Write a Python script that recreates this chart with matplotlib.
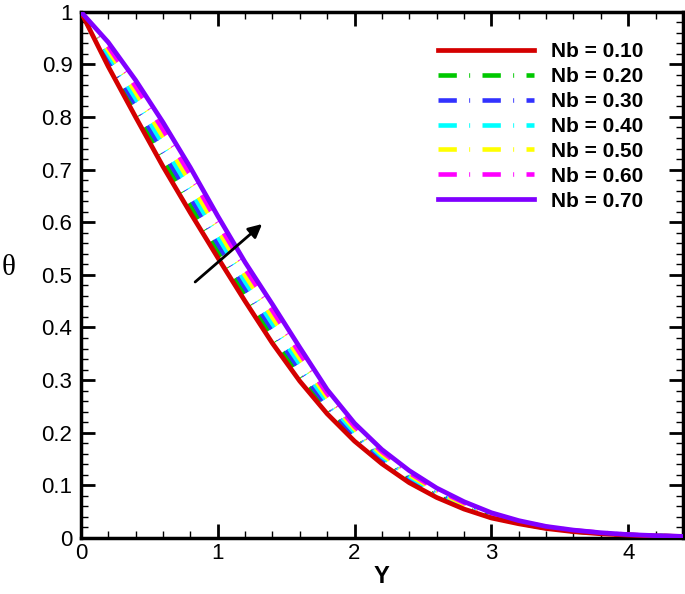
import numpy as np
import matplotlib
matplotlib.use('Agg')
import matplotlib.pyplot as plt
from matplotlib.ticker import MultipleLocator

plt.rcParams['font.family'] = ['Liberation Sans', 'DejaVu Sans']

Y = [0.0, 0.2, 0.4, 0.6, 0.8, 1.0, 1.2, 1.4, 1.6, 1.8, 2.0, 2.2,
     2.4, 2.6, 2.8, 3.0, 3.2, 3.4, 3.6, 3.8, 4.0, 4.2, 4.4]

theta_010 = [1.0, 0.896, 0.800, 0.706, 0.618, 0.533, 0.450, 0.370, 0.298, 0.236, 0.184, 0.141,
             0.105, 0.077, 0.055, 0.038, 0.027, 0.018, 0.012, 0.008, 0.0055, 0.0038, 0.0026]
theta_020 = [1.0, 0.904, 0.812, 0.720, 0.632, 0.546, 0.462, 0.382, 0.309, 0.244, 0.190, 0.146,
             0.109, 0.080, 0.057, 0.040, 0.028, 0.019, 0.0125, 0.008, 0.0057, 0.0040, 0.0027]
theta_030 = [1.0, 0.911, 0.823, 0.734, 0.647, 0.559, 0.475, 0.395, 0.319, 0.251, 0.195, 0.150,
             0.113, 0.083, 0.060, 0.041, 0.029, 0.019, 0.0130, 0.009, 0.0060, 0.0040, 0.0028]
theta_040 = [1.0, 0.919, 0.835, 0.748, 0.661, 0.573, 0.487, 0.407, 0.330, 0.259, 0.201, 0.155,
             0.117, 0.086, 0.062, 0.043, 0.030, 0.020, 0.0135, 0.009, 0.0060, 0.0040, 0.0028]
theta_050 = [1.0, 0.927, 0.847, 0.762, 0.675, 0.586, 0.499, 0.419, 0.341, 0.267, 0.207, 0.159,
             0.120, 0.089, 0.064, 0.045, 0.031, 0.021, 0.0140, 0.009, 0.0060, 0.0042, 0.0029]
theta_060 = [1.0, 0.934, 0.858, 0.776, 0.690, 0.599, 0.512, 0.432, 0.351, 0.274, 0.212, 0.164,
             0.124, 0.092, 0.067, 0.046, 0.032, 0.021, 0.0145, 0.010, 0.0063, 0.0044, 0.0030]
theta_070 = [1.0, 0.942, 0.870, 0.790, 0.704, 0.612, 0.524, 0.444, 0.362, 0.282, 0.218, 0.168,
             0.128, 0.095, 0.069, 0.048, 0.033, 0.022, 0.0150, 0.010, 0.0065, 0.0045, 0.0030]

labels = ['Nb = 0.10', 'Nb = 0.20', 'Nb = 0.30', 'Nb = 0.40', 'Nb = 0.50', 'Nb = 0.60', 'Nb = 0.70']
colors = ['#d40000', '#00c800', '#3232ff', '#00ffff', '#ffff00', '#ff00ff', '#8000ff']

series = [theta_010, theta_020, theta_030, theta_040, theta_050, theta_060, theta_070]

fig = plt.figure(figsize=(6.85, 5.94), dpi=100)
ax = fig.add_axes([0.118, 0.0943, 0.879, 0.886])

# dashed curves: dash, gap, faint dot, gap
dash = (4, 2.7, 0.2, 2.7)
for i, (th, lab, c) in enumerate(zip(series, labels, colors)):
    if i in (0, 6):
        ax.plot(Y, th, color=c, lw=3.4, label=lab, zorder=3, solid_joinstyle='round')
    else:
        ax.plot(Y, th, color=c, lw=3.3, label=lab, dashes=dash, zorder=2)

ax.annotate('', xy=(1.34, 0.60), xytext=(0.82, 0.483),
            arrowprops=dict(arrowstyle='-|>', color='black', lw=2,
                            mutation_scale=20))

ax.set_xlim(0, 4.4)
ax.set_ylim(0, 1)
ax.xaxis.set_major_locator(MultipleLocator(1))
ax.xaxis.set_minor_locator(MultipleLocator(0.2))
ax.yaxis.set_minor_locator(MultipleLocator(0.02))
ax.set_yticks(np.arange(0, 1.01, 0.1))
ax.set_yticklabels(['0', '0.1', '0.2', '0.3', '0.4', '0.5', '0.6', '0.7', '0.8', '0.9', '1'])

ax.tick_params(which='both', direction='in', top=True, right=True, labelsize=16)
ax.tick_params(which='major', length=10, width=2)
ax.tick_params(which='minor', length=5, width=1)
ax.tick_params(axis='y', pad=6)
for s in ax.spines.values():
    s.set_linewidth(2.5)

ax.set_xlabel('Y', fontsize=17, fontweight='bold', labelpad=1)
fig.text(0.002, 0.548, 'θ', fontsize=21, family=['Liberation Serif', 'DejaVu Serif'],
         va='center', ha='left')

leg = ax.legend(loc='upper right', bbox_to_anchor=(0.965, 0.978), frameon=False,
                handlelength=4.6, labelspacing=0.285, handletextpad=0.8,
                prop={'weight': 'bold', 'size': 15})

fig.savefig('out.png', dpi=100)
